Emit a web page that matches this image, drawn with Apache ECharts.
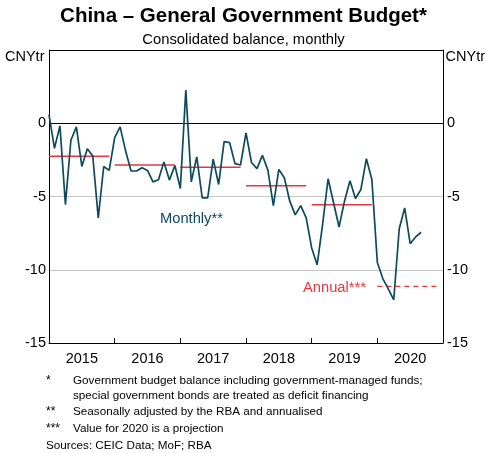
<!DOCTYPE html>
<html><head><meta charset="utf-8">
<script src="https://cdn.jsdelivr.net/npm/echarts@6/dist/echarts.min.js"></script>
<style>html,body{margin:0;padding:0;background:#fff}#c{width:487px;height:453px}</style>
</head><body><div id="c"></div>
<script>
const startYear = 2015;
const yearLabels = ['2015','2016','2017','2018','2019','2020'];
const yTicks = [-15,-10,-5,0,5];
// Monthly balance, CNY trillion, Jan 2015 .. Sep 2020
const monthlyBalance = [
  0.57,-1.71,-0.18,-5.55,-1.16,-0.25,-2.95,-1.74,-2.24,-6.46,-2.95,-3.22,
  -0.98,-0.25,-1.90,-3.26,-3.26,-3.04,-3.22,-4.00,-3.86,-2.65,-3.88,-2.88,
  -4.45,2.26,-4.00,-2.30,-5.10,-5.10,-2.44,-4.18,-1.26,-1.32,-2.76,-2.85,
  -0.66,-2.68,-3.10,-2.19,-3.20,-5.62,-3.15,-3.72,-5.32,-6.25,-5.62,-6.46,
  -8.51,-9.66,-6.90,-3.79,-5.43,-7.08,-5.32,-3.93,-5.14,-4.52,-2.42,-3.84,
  -9.50,-10.60,-11.30,-12.05,-7.20,-5.78,-8.22,-7.76,-7.44
];
const annualYears = [2015,2016,2017,2018,2019];
const annualBalance = [-2.26,-2.85,-3.01,-4.27,-5.57];
const projYear = 2020;
const projBalance = -11.14;

const TEAL = '#0d4a5c', RED = '#e8363f';
const FONT = '"Liberation Sans", Arial, sans-serif';

const series = [];
annualYears.forEach((y, i) => {
  const m0 = (y - startYear) * 12;
  series.push({type:'line', xAxisIndex:0, yAxisIndex:0, symbol:'none', silent:true,
    lineStyle:{color:RED, width:1.5}, data:[[m0, annualBalance[i]],[m0+11, annualBalance[i]]], z:2});
});
{
  const m0 = (projYear - startYear) * 12;
  series.push({type:'line', xAxisIndex:0, yAxisIndex:0, symbol:'none', silent:true,
    lineStyle:{color:RED, width:1.2, type:[5,4]}, data:[[m0, projBalance],[m0+11, projBalance]], z:2});
}
series.push({type:'line', xAxisIndex:0, yAxisIndex:0, symbol:'none', silent:true,
  lineStyle:{color:TEAL, width:1.7}, data: monthlyBalance.map((v,i)=>[i,v]), z:3});

const yLabel = {fontFamily:FONT, fontSize:14.5, color:'#000', formatter: v => v === 5 ? '' : String(v)};
const option = {
  animation:false,
  textStyle:{fontFamily:FONT},
  grid:{left:49, right:44, top:50, bottom:110, containLabel:false},
  xAxis:[
    {type:'value', min:0, max:72, interval:12, position:'bottom',
     axisLine:{show:true, onZero:false, lineStyle:{color:'#000', width:1}},
     axisTick:{show:true, inside:true, length:5, lineStyle:{color:'#000'}},
     axisLabel:{show:false}, splitLine:{show:false}},
    {type:'category', data:yearLabels, position:'bottom', boundaryGap:true,
     axisLine:{show:false}, axisTick:{show:false}, splitLine:{show:false},
     axisLabel:{fontFamily:FONT, fontSize:14.5, color:'#000', margin:8}}
  ],
  yAxis:[
    {type:'value', min:-15, max:5, interval:5, position:'left',
     axisLine:{show:true, lineStyle:{color:'#000', width:1}},
     axisTick:{show:false},
     axisLabel:Object.assign({margin:3}, yLabel),
     splitLine:{show:true, lineStyle:{color:['#000','#c8c8c8','#c8c8c8','#000','#000'], width:1}}},
    {type:'value', min:-15, max:5, interval:5, position:'right',
     axisLine:{show:true, lineStyle:{color:'#000', width:1}},
     axisTick:{show:false},
     axisLabel:Object.assign({margin:4}, yLabel),
     splitLine:{show:false}}
  ],
  series: series,
  graphic:[
    {type:'text', left:'center', top:6, style:{text:'China – General Government Budget*', font:'bold 20.5px '+FONT, fill:'#000'}},
    {type:'text', left:'center', top:32, style:{text:'Consolidated balance, monthly', font:'14.8px '+FONT, fill:'#000'}},
    {type:'text', left:5, top:49, style:{text:'CNYtr', font:'14.5px '+FONT, fill:'#000'}},
    {type:'text', right:2, top:49, style:{text:'CNYtr', font:'14.5px '+FONT, fill:'#000'}},
    {type:'text', left:160, top:211, style:{text:'Monthly**', font:'14.7px '+FONT, fill:TEAL}},
    {type:'text', left:303, top:280, style:{text:'Annual***', font:'14.7px '+FONT, fill:RED}},
    {type:'text', left:46, top:375, style:{text:'*', font:'12px '+FONT, fill:'#000'}},
    {type:'text', left:73, top:375, style:{text:'Government budget balance including government-managed funds;', font:'11.7px '+FONT, fill:'#000'}},
    {type:'text', left:73, top:390, style:{text:'special government bonds are treated as deficit financing', font:'11.7px '+FONT, fill:'#000'}},
    {type:'text', left:46, top:406, style:{text:'**', font:'12px '+FONT, fill:'#000'}},
    {type:'text', left:73, top:406, style:{text:'Seasonally adjusted by the RBA and annualised', font:'11.7px '+FONT, fill:'#000'}},
    {type:'text', left:46, top:423, style:{text:'***', font:'12px '+FONT, fill:'#000'}},
    {type:'text', left:73, top:423, style:{text:'Value for 2020 is a projection', font:'11.7px '+FONT, fill:'#000'}},
    {type:'text', left:46, top:440, style:{text:'Sources: CEIC Data; MoF; RBA', font:'11.7px '+FONT, fill:'#000'}}
  ]
};
const chart = echarts.init(document.getElementById('c'), null, {renderer:'canvas'});
chart.setOption(option);
</script></body></html>
